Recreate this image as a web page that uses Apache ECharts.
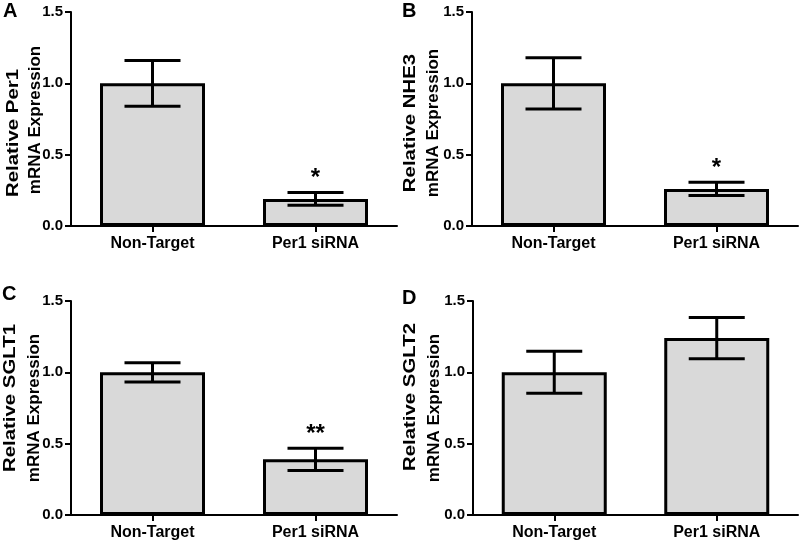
<!DOCTYPE html>
<html>
<head>
<meta charset="utf-8">
<script src="https://cdn.jsdelivr.net/npm/echarts@6/dist/echarts.min.js"></script>
<style>html,body{margin:0;padding:0;background:#fff}#c{width:800px;height:542px}</style>
</head>
<body>
<div id="c"></div>
<script>
// ---- data ----
const categories = ['Non-Target', 'Per1 siRNA'];
const panelLetters = ['A', 'B', 'C', 'D'];
const yTitleLine1 = ['Relative Per1', 'Relative NHE3', 'Relative SGLT1', 'Relative SGLT2'];
const yTitleLine2 = ['mRNA Expression', 'mRNA Expression', 'mRNA Expression', 'mRNA Expression'];
const yTicks = [0, 0.5, 1.0, 1.5];

const per1Mean = [1.00, 0.19];
const per1Err = [0.16, 0.045];
const per1Sig = ['', '*'];

const nhe3Mean = [1.00, 0.26];
const nhe3Err = [0.18, 0.047];
const nhe3Sig = ['', '*'];

const sglt1Mean = [1.00, 0.39];
const sglt1Err = [0.068, 0.078];
const sglt1Sig = ['', '**'];

const sglt2Mean = [1.00, 1.24];
const sglt2Err = [0.147, 0.145];
const sglt2Sig = ['', ''];

const panels = [
  { mean: per1Mean, err: per1Err, sig: per1Sig },
  { mean: nhe3Mean, err: nhe3Err, sig: nhe3Sig },
  { mean: sglt1Mean, err: sglt1Err, sig: sglt1Sig },
  { mean: sglt2Mean, err: sglt2Err, sig: sglt2Sig }
];

// ---- layout ----
const FONT = "'Liberation Sans', Arial, Helvetica, sans-serif";
const gridPos = [
  { left: 71, top: 12, width: 326, height: 214 },
  { left: 472, top: 12, width: 326, height: 214 },
  { left: 71, top: 301, width: 326, height: 214 },
  { left: 473, top: 301, width: 325, height: 214 }
];
const letterPos = [
  { left: 3, top: 1 }, { left: 402, top: 1 }, { left: 2, top: 284 }, { left: 402, top: 288 }
];
// centres of the two rotated title lines [x1, y1, x2, y2]
const titlePos = [
  [13, 133, 35, 120],
  [410, 123, 433, 123],
  [10, 398, 34, 408],
  [410, 397, 434, 408]
];

const chart = echarts.init(document.getElementById('c'), null, { renderer: 'canvas' });

const grid = gridPos.map(g => Object.assign({ containLabel: false }, g));
const xAxis = gridPos.map((g, i) => ({
  type: 'category', gridIndex: i, data: categories, boundaryGap: true,
  axisLine: { show: true, lineStyle: { color: '#000', width: 2 } },
  axisTick: { show: true, alignWithLabel: true, length: 6, lineStyle: { color: '#000', width: 2 } },
  axisLabel: { color: '#000', fontWeight: 'bold', fontSize: 16, fontFamily: FONT, margin: 10 },
  splitLine: { show: false }
}));
const yAxis = gridPos.map((g, i) => ({
  type: 'value', gridIndex: i, min: yTicks[0], max: yTicks[yTicks.length - 1], interval: 0.5,
  axisLine: { show: true, lineStyle: { color: '#000', width: 2 } },
  axisTick: { show: true, length: 6, lineStyle: { color: '#000', width: 2 } },
  axisLabel: { color: '#000', fontWeight: 'bold', fontSize: 15, fontFamily: FONT, margin: 8,
    formatter: v => v.toFixed(1) },
  splitLine: { show: false }
}));

const series = [];
panels.forEach((p, i) => {
  series.push({
    type: 'bar', xAxisIndex: i, yAxisIndex: i, data: p.mean, barWidth: 105,
    itemStyle: { color: '#d9d9d9', borderColor: '#000', borderWidth: 3 },
    silent: true, animation: false
  });
  series.push({
    type: 'custom', xAxisIndex: i, yAxisIndex: i, animation: false, silent: true, z: 5,
    data: p.mean.map((m, k) => [k, m, p.err[k]]),
    renderItem: function (params, api) {
      const x = api.value(0), m = api.value(1), e = api.value(2);
      const s = p.sig[x];
      const top = api.coord([x, m + e]);
      const bot = api.coord([x, m - e]);
      const hw = 28;
      const st = { stroke: '#000', lineWidth: 3 };
      const children = [
        { type: 'line', shape: { x1: top[0], y1: top[1], x2: bot[0], y2: bot[1] }, style: st },
        { type: 'line', shape: { x1: top[0] - hw, y1: top[1], x2: top[0] + hw, y2: top[1] }, style: st },
        { type: 'line', shape: { x1: bot[0] - hw, y1: bot[1], x2: bot[0] + hw, y2: bot[1] }, style: st }
      ];
      if (s) {
        children.push({ type: 'text', style: { text: s, x: top[0], y: top[1] - 14, align: 'center', verticalAlign: 'middle',
          fill: '#000', font: 'bold 24px ' + FONT } });
      }
      return { type: 'group', children: children };
    }
  });
});

const title = panelLetters.map((l, i) => ({
  text: l, left: letterPos[i].left, top: letterPos[i].top, padding: 0,
  textStyle: { color: '#000', fontWeight: 'bold', fontSize: 20, fontFamily: FONT }
}));

const graphic = [];
titlePos.forEach((tp, i) => {
  graphic.push({ type: 'text', x: tp[0], y: tp[1], rotation: Math.PI / 2, scaleX: 1.2, silent: true,
    style: { text: yTitleLine1[i], align: 'center', verticalAlign: 'middle', fill: '#000', font: 'bold 17px ' + FONT } });
  graphic.push({ type: 'text', x: tp[2], y: tp[3], rotation: Math.PI / 2, silent: true,
    style: { text: yTitleLine2[i], align: 'center', verticalAlign: 'middle', fill: '#000', font: 'bold 17px ' + FONT } });
});

chart.setOption({ animation: false, backgroundColor: '#fff', title, grid, xAxis, yAxis, series, graphic });
</script>
</body>
</html>
